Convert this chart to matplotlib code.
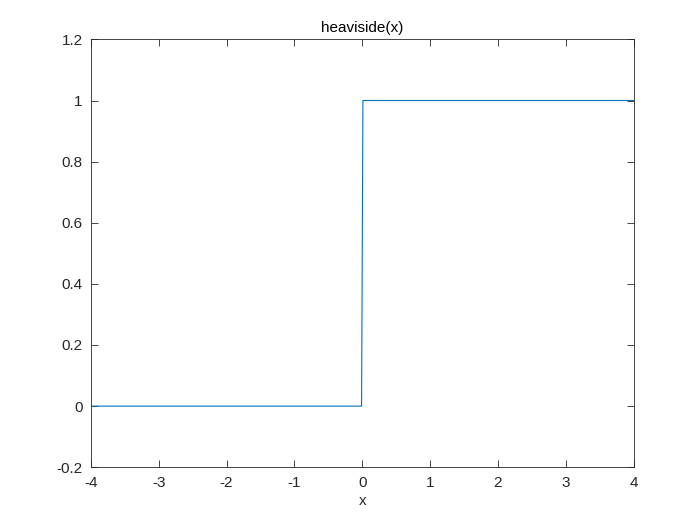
import matplotlib
matplotlib.use("Agg")
from matplotlib import pyplot as plt

# sampled points of heaviside(x)
x_vals = [-4, -0.01, 0.01, 4]
y_vals = [0, 0, 1, 1]

xticks = [-4, -3, -2, -1, 0, 1, 2, 3, 4]
yticks = [-0.2, 0, 0.2, 0.4, 0.6, 0.8, 1, 1.2]
ytick_labels = ["-0.2", "0", "0.2", "0.4", "0.6", "0.8", "1", "1.2"]

plt.rcParams['font.family'] = ['Liberation Sans', 'DejaVu Sans']

fig = plt.figure(figsize=(7, 5.25), dpi=100)
ax = fig.add_axes([0.13, 0.11, 0.775, 0.815])

ax.plot(x_vals, y_vals, color="#0072BD", linewidth=0.8)

ax.set_xlim(-4, 4)
ax.set_ylim(-0.2, 1.2)
ax.set_xticks(xticks)
ax.set_xticklabels([str(t) for t in xticks])
ax.set_yticks(yticks)
ax.set_yticklabels(ytick_labels)

ax.tick_params(direction="in", top=True, right=True, length=5, width=0.6,
               labelsize=11, color="#262626", labelcolor="#262626", pad=6)
for s in ax.spines.values():
    s.set_linewidth(0.6)
    s.set_color("#262626")

ax.set_xlabel("x", fontsize=11, color="#262626", labelpad=3)
ax.set_title("heaviside(x)", fontsize=11, color="#000000", pad=5)

fig.savefig("out.png", dpi=100)
